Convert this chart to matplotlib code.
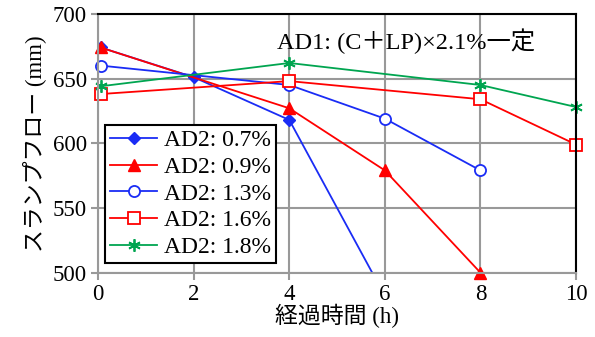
import matplotlib
matplotlib.use('Agg')
import matplotlib.pyplot as plt

plt.rcParams['font.family'] = ['Liberation Serif', 'Noto Sans CJK JP']

# data
x_07 = [0.05, 2, 4, 6]
y_07 = [674, 651, 618, 482]
x_09 = [0.05, 4, 6, 8]
y_09 = [674, 627, 579, 500]
x_13 = [0.05, 4, 6, 8]
y_13 = [660, 645, 619, 579]
x_16 = [0.05, 4, 8, 10]
y_16 = [638, 648, 634, 599]
x_18 = [0.05, 4, 8, 10]
y_18 = [644, 662, 645, 628]

labels = ['AD2: 0.7%', 'AD2: 0.9%', 'AD2: 1.3%', 'AD2: 1.6%', 'AD2: 1.8%']
x_ticks = [0, 2, 4, 6, 8, 10]
y_ticks = [500, 550, 600, 650, 700]

blue = '#1a2cf5'
red = '#ff0000'
green = '#00a550'

fig = plt.figure(figsize=(5.95, 3.37), dpi=100)
ax = fig.add_axes([0.165, 0.191, 0.803, 0.768])

ax.plot(x_07, y_07, color=blue, lw=1.3, marker='D', ms=6, mfc=blue, mec=blue, label=labels[0])
ax.plot(x_09, y_09, color=red, lw=1.3, marker='^', ms=9, mfc=red, mec=red, label=labels[1], clip_on=False)
ax.plot(x_13, y_13, color=blue, lw=1.3, marker='o', ms=8, mfc='white', mec=blue, mew=1.3, label=labels[2], clip_on=False)
ax.plot(x_16, y_16, color=red, lw=1.3, marker='s', ms=8, mfc='white', mec=red, mew=1.3, label=labels[3], clip_on=False)
ax.plot(x_18, y_18, color=green, lw=1.3, marker=(6, 2, 0), ms=9, mec=green, mew=1.3, label=labels[4], clip_on=False)

ax.set_xlim(0, 10)
ax.set_ylim(500, 700)
ax.set_xticks(x_ticks)
ax.set_yticks(y_ticks)
ax.grid(True, color='#999999', lw=1.5, zorder=0)
ax.set_axisbelow(True)

for s in ['left', 'bottom']:
    ax.spines[s].set_color('#999999')
    ax.spines[s].set_linewidth(1.5)
for s in ['top', 'right']:
    ax.spines[s].set_color('black')
    ax.spines[s].set_linewidth(1.5)
ax.tick_params(axis='both', direction='out', length=5, width=1.5, color='#999999', labelsize=16.5, pad=3)

ax.set_xlabel('経過時間 (h)', fontsize=16.5, labelpad=-1)
ax.set_ylabel('スランプフロー (mm)', fontsize=16.5, labelpad=4)

ax.text(0.375, 0.895, 'AD1: (C＋LP)×2.1%一定', transform=ax.transAxes, fontsize=17.5, ha='left', va='center')

leg = ax.legend(loc='lower left', bbox_to_anchor=(0.005, 0.02), fontsize=17, frameon=True, fancybox=False,
                framealpha=1, edgecolor='black', handlelength=2.0, borderpad=0.2, labelspacing=0.22,
                handletextpad=0.3, borderaxespad=0.2)
leg.get_frame().set_linewidth(1.5)

fig.savefig('out.png', dpi=100)
